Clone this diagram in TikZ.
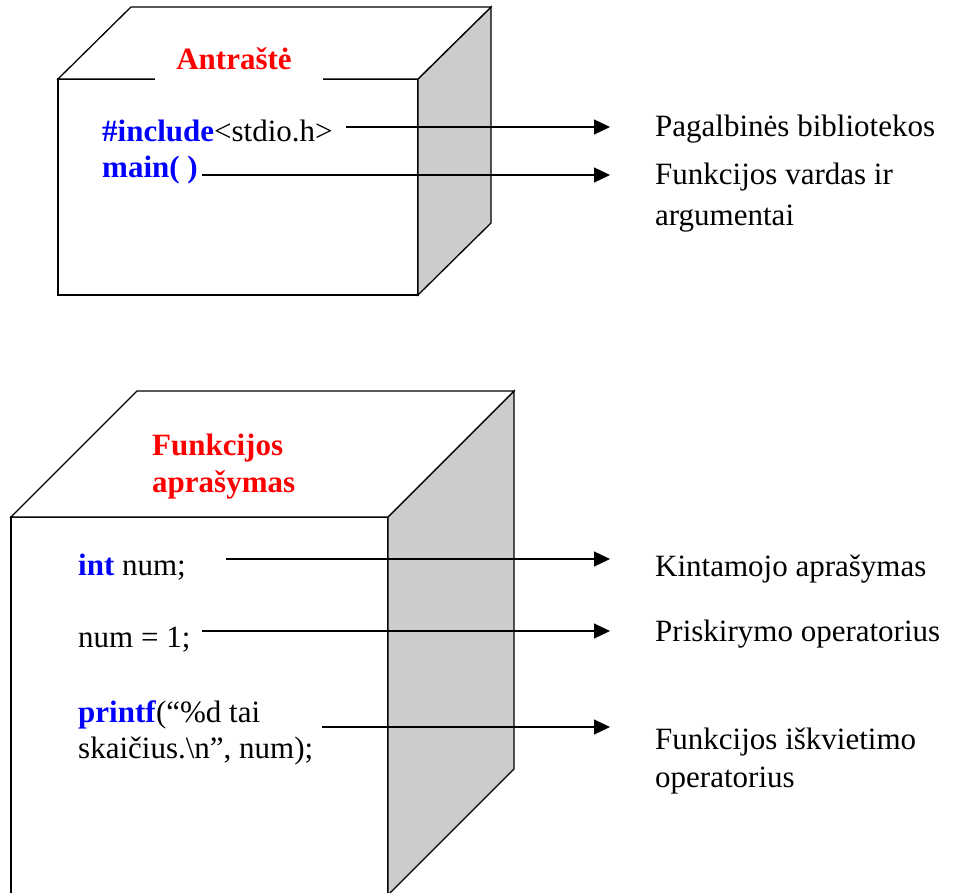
\documentclass[tikz,border=0pt]{standalone}
\usepackage{fontspec}
\setmainfont{Liberation Serif}
\usetikzlibrary{arrows.meta}
\definecolor{sidegray}{RGB}{204,204,204}
\definecolor{codeblue}{RGB}{0,0,255}
\definecolor{titlered}{RGB}{255,0,0}
\tikzset{
  boxline/.style={draw=black, line width=1.3pt, line join=miter},
  txt/.style={inner sep=0pt, anchor=base west, font=\fontsize{31}{36}\selectfont},
  ttl/.style={txt, text=titlered, font=\fontsize{31}{37}\selectfont\bfseries},
  arr/.style={line width=1.2pt, -{Triangle[length=16pt,width=15pt]}},
}
\newcommand{\kw}[1]{\textcolor{codeblue}{\textbf{#1}}}
\begin{document}
\begin{tikzpicture}[x=1pt,y=-1pt]
\useasboundingbox (0,0) rectangle (953,893);
\clip (0,0) rectangle (953,893);
% ---------- box 1 ----------
\draw[boxline, fill=white] (58,79) rectangle (418,295);
\draw[boxline, fill=sidegray] (418,79) -- (491,7) -- (491,223) -- (418,295) -- cycle;
\draw[boxline, fill=white] (58,79) -- (131,7) -- (491,7) -- (418,79) -- cycle;
\fill[white] (155,40) rectangle (323,81);
\node[ttl, anchor=base] (h1) at (234,70) {Antraštė};
\node[txt] (inc) at (102,142) {\kw{\#include}<stdio.h>};
\node[txt] (mn) at (102,178) {\kw{main( )}};
\node[txt] (l1) at (655,137) {Pagalbinės bibliotekos};
\node[txt] (l2) at (655,185) {Funkcijos vardas ir};
\node[txt] (l2b) at (655,226) {argumentai};
\coordinate (s1) at (346,127); \coordinate (e1) at (610,127);
\coordinate (s2) at (202,175); \coordinate (e2) at (610,175);
\draw[arr] (s1) -- (e1);
\draw[arr] (s2) -- (e2);
% ---------- box 2 ----------
\draw[boxline, fill=white] (11,517) rectangle (388,897);
\draw[boxline, fill=sidegray] (388,517) -- (514,391) -- (514,769) -- (388,895) -- cycle;
\draw[boxline, fill=white] (11,517) -- (137,391) -- (514,391) -- (388,517) -- cycle;
\node[ttl] (h2) at (152,455) {Funkcijos};
\node[ttl] (h2b) at (152,492) {aprašymas};
\node[txt] (c1) at (78,575) {\kw{int} num;};
\node[txt] (c2) at (78,647) {num = 1;};
\node[txt] (c3) at (78,722) {\kw{printf}(“\%d tai};
\node[txt] (c3b) at (78,758) {skaičius.\textbackslash n”, num);};
\node[txt] (k1) at (655,576) {Kintamojo aprašymas};
\node[txt] (k2) at (655,641) {Priskirymo operatorius};
\node[txt] (k3) at (655,749) {Funkcijos iškvietimo};
\node[txt] (k3b) at (655,787) {operatorius};
\coordinate (s3) at (226,559); \coordinate (e3) at (610,559);
\coordinate (s4) at (202,631); \coordinate (e4) at (610,631);
\coordinate (s5) at (322,727); \coordinate (e5) at (610,727);
\draw[arr] (s3) -- (e3);
\draw[arr] (s4) -- (e4);
\draw[arr] (s5) -- (e5);
\end{tikzpicture}
\end{document}
